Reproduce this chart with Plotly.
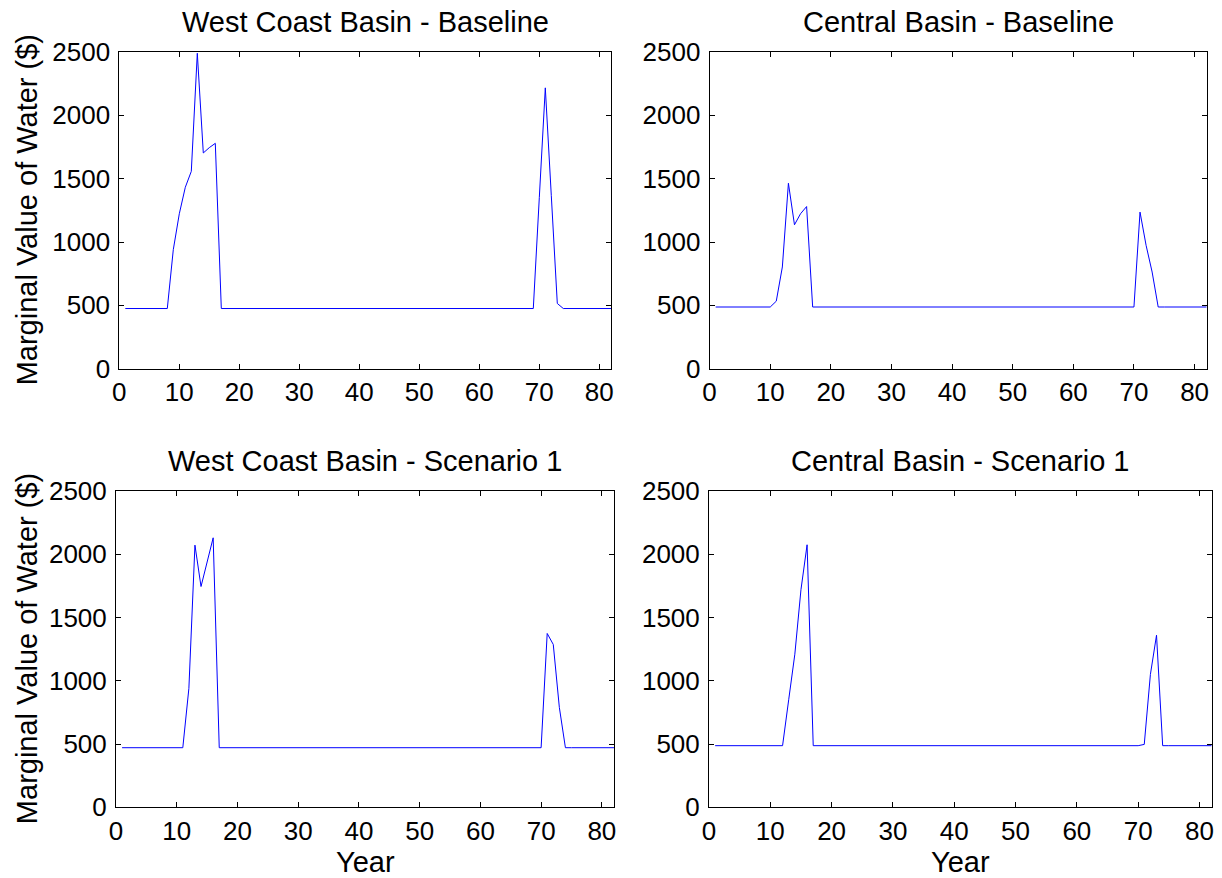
import plotly.graph_objects as go

years = list(range(1, 83))

def build(base, points):
    vals = [base] * len(years)
    for x, v in points.items():
        vals[x - 1] = v
    return vals

# Peak values (year: value); elsewhere the flat base value
wc_base_level = 475
wc_base_peaks = {9: 940, 10: 1223, 11: 1432, 12: 1558, 13: 2490, 14: 1703,
                 15: 1745, 16: 1779, 70: 1350, 71: 2217, 72: 1366, 73: 515}
cb_base_level = 487
cb_base_peaks = {11: 533, 12: 803, 13: 1464, 14: 1136, 15: 1223, 16: 1280,
                 71: 1236, 72: 974, 73: 763}
wc_s1_level = 471
wc_s1_peaks = {12: 940, 13: 2072, 14: 1745, 15: 1940, 16: 2130,
               71: 1374, 72: 1287, 73: 790}
cb_s1_level = 487
cb_s1_peaks = {13: 850, 14: 1210, 15: 1720, 16: 2075,
               71: 497, 72: 1050, 73: 1360}

titles = ["West Coast Basin - Baseline", "Central Basin - Baseline",
          "West Coast Basin - Scenario 1", "Central Basin - Scenario 1"]
series = [build(wc_base_level, wc_base_peaks), build(cb_base_level, cb_base_peaks),
          build(wc_s1_level, wc_s1_peaks), build(cb_s1_level, cb_s1_peaks)]
y_label = "Marginal Value of Water ($)"
x_label = "Year"

x_ticks = [0, 10, 20, 30, 40, 50, 60, 70, 80]
y_ticks = [0, 500, 1000, 1500, 2000, 2500]

W, H = 1222, 878
# pixel boxes: (left, right, top, bottom)
boxes = [(119.3, 611.3, 52, 368.7), (709.6, 1206.7, 52, 368.7),
         (116, 614, 491, 807.3), (709, 1211.7, 491, 807.3)]

FONT = "Liberation Sans, Arial, sans-serif"
TICK_SIZE = 26
LABEL_SIZE = 29
fig = go.Figure()
layout = dict(width=W, height=H, margin=dict(l=0, r=0, t=0, b=0, pad=0),
              autosize=False, template="none",
              paper_bgcolor="white", plot_bgcolor="white", showlegend=False,
              font=dict(family=FONT, size=TICK_SIZE, color="black"))
annotations = []
for i, (ttl, ys, box) in enumerate(zip(titles, series, boxes)):
    n = "" if i == 0 else str(i + 1)
    fig.add_trace(go.Scatter(x=years, y=ys, mode="lines",
                             line=dict(color="#0000FF", width=1),
                             xaxis="x" + n, yaxis="y" + n))
    l, r, t, b = box
    common = dict(showline=True, linecolor="black", linewidth=1, mirror="ticks",
                  ticks="inside", ticklen=5, tickcolor="black", showgrid=False,
                  zeroline=False, automargin=False,
                  tickfont=dict(family=FONT, size=TICK_SIZE, color="black"))
    layout["xaxis" + n] = dict(common, domain=[l / W, r / W], range=[0, 82],
                               tickvals=x_ticks, anchor="y" + n)
    layout["yaxis" + n] = dict(common, domain=[1 - b / H, 1 - t / H], range=[0, 2500],
                               tickvals=y_ticks, anchor="x" + n, ticklabelstandoff=3)
    annotations.append(dict(text=ttl, x=(l + r) / 2 / W, y=1 - (t - 30) / H,
                            xref="paper", yref="paper", showarrow=False,
                            xanchor="center", yanchor="middle",
                            font=dict(family=FONT, size=LABEL_SIZE, color="black")))
    if i >= 2:
        annotations.append(dict(text=x_label, x=(l + r) / 2 / W, y=1 - 862 / H,
                                xref="paper", yref="paper", showarrow=False,
                                xanchor="center", yanchor="middle",
                                font=dict(family=FONT, size=LABEL_SIZE, color="black")))
    if i % 2 == 0:
        annotations.append(dict(text=y_label, x=27 / W, y=1 - (t + b) / 2 / H,
                                xref="paper", yref="paper", showarrow=False,
                                textangle=-90, xanchor="center", yanchor="middle",
                                font=dict(family=FONT, size=LABEL_SIZE, color="black")))
layout["annotations"] = annotations
fig.update_layout(**layout)
fig.write_html("out.html")
